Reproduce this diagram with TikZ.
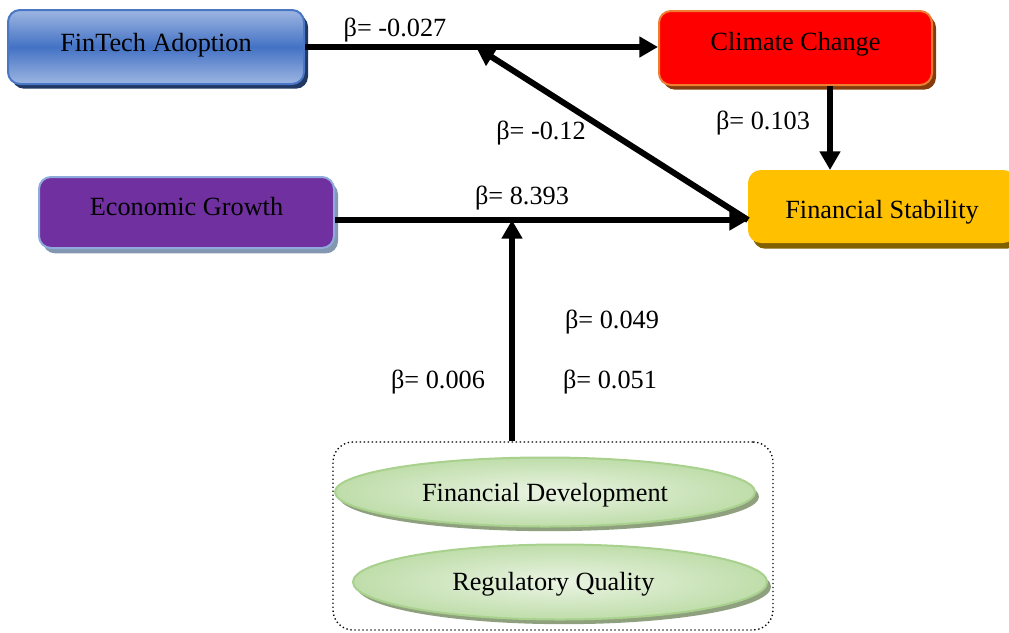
\documentclass[tikz,border=0pt]{standalone}
\usepackage{fontspec}
\setmainfont{Liberation Serif}
\usetikzlibrary{shadows,arrows.meta,calc,shapes.geometric}
\definecolor{bluelight}{HTML}{9DB6E2}
\definecolor{bluedark}{HTML}{4472C4}
\definecolor{blueedge}{HTML}{4A76C6}
\definecolor{navy}{HTML}{203864}
\definecolor{ccred}{HTML}{FF0000}
\definecolor{ccedge}{HTML}{ED7D31}
\definecolor{ccshadow}{HTML}{843C0C}
\definecolor{fsgold}{HTML}{FFC000}
\definecolor{fsshadow}{HTML}{806000}
\definecolor{egpurple}{HTML}{7030A0}
\definecolor{egedge}{HTML}{8FAADC}
\definecolor{egshadow}{HTML}{8497B0}
\definecolor{gin}{HTML}{EAF4E3}
\definecolor{gout}{HTML}{BFDDAA}
\definecolor{gedge}{HTML}{A9D18E}
\definecolor{gshadow}{HTML}{8FA07F}
\begin{document}
\begin{tikzpicture}[x=0.75pt,y=-0.75pt,
  font=\fontsize{19.7}{23}\selectfont,
  box/.style={rounded corners=9pt, line width=1.5pt, inner sep=0pt},
  oval/.style={ellipse, inner sep=0pt, line width=1.5pt, draw=gedge,
    inner color=gin, outer color=gout,
    drop shadow={shadow xshift=3pt, shadow yshift=-3.5pt, fill=gshadow, opacity=1}},
  arr/.style={line width=4.5pt, -{Triangle[length=14pt,width=15pt]}},
  lab/.style={inner sep=0pt}]
\useasboundingbox (0,0) rectangle (1009,632);
\clip (0,0) rectangle (1009,632);

% boxes
\node[box, draw=blueedge, top color=bluelight, bottom color=bluelight, middle color=bluedark,
  drop shadow={shadow xshift=3pt, shadow yshift=-3.5pt, fill=navy, opacity=1},
  text height=10pt, text depth=4pt,
  minimum width=222pt, minimum height=55.5pt] (fin) at (156,47) {FinTech Adoption};
\node[box, draw=ccedge, fill=ccred,
  drop shadow={shadow xshift=3pt, shadow yshift=-3.5pt, fill=ccshadow, opacity=1},
  text height=8pt, text depth=5pt,
  minimum width=204.75pt, minimum height=55.5pt] (cc) at (795.5,48) {Climate Change};
\node[box, draw=fsgold, fill=fsgold,
  drop shadow={shadow xshift=3pt, shadow yshift=-5pt, fill=fsshadow, opacity=1},
  text height=18pt, text depth=0.2pt,
  minimum width=199.5pt, minimum height=53.25pt] (fs) at (882,206.5) {Financial Stability};
\node[box, draw=egedge, fill=egpurple,
  drop shadow={shadow xshift=3pt, shadow yshift=-4pt, fill=egshadow, opacity=1},
  text height=8pt, text depth=4.2pt,
  minimum width=221.25pt, minimum height=53.25pt] (econ) at (186.5,212.5) {Economic Growth};

% moderator group
\node[draw, dotted, line width=1pt, rounded corners=15pt, inner sep=0pt,
  minimum width=330pt, minimum height=141pt] (grp) at (553,536) {};
\node[oval, minimum width=315pt, minimum height=51.75pt,
  text height=16pt, text depth=1.4pt] (fd) at (545,492) {Financial Development};
\node[oval, minimum width=310.5pt, minimum height=56.25pt,
  text height=14pt, text depth=2pt] (rq) at (560,582) {\hspace*{-10pt}Regulatory Quality};

% helper coordinates
\coordinate (d) at (476,47);
\coordinate (m) at (512,220);
\coordinate (ccx) at (830,0);

% connectors
\draw[arr] (fin.east) -- (fin.east -| cc.west);
\draw[arr] (cc.south -| ccx) -- (fs.north -| ccx);
\draw[arr] (econ.east |- m) -- (fs.west |- m);
\draw[arr] (fs.west |- m) -- (d);
\draw[arr] (grp.north -| m) -- (m);

% labels
\node[lab] (l1) at (395,30) {β= -0.027};
\node[lab] (l2) at (541,133) {β= -0.12};
\node[lab] (l3) at (522,198) {β= 8.393};
\node[lab] (l4) at (763,123) {β= 0.103};
\node[lab] (l5) at (612,322) {β= 0.049};
\node[lab] (l6) at (438,382) {β= 0.006};
\node[lab] (l7) at (610,382) {β= 0.051};
\end{tikzpicture}
\end{document}
